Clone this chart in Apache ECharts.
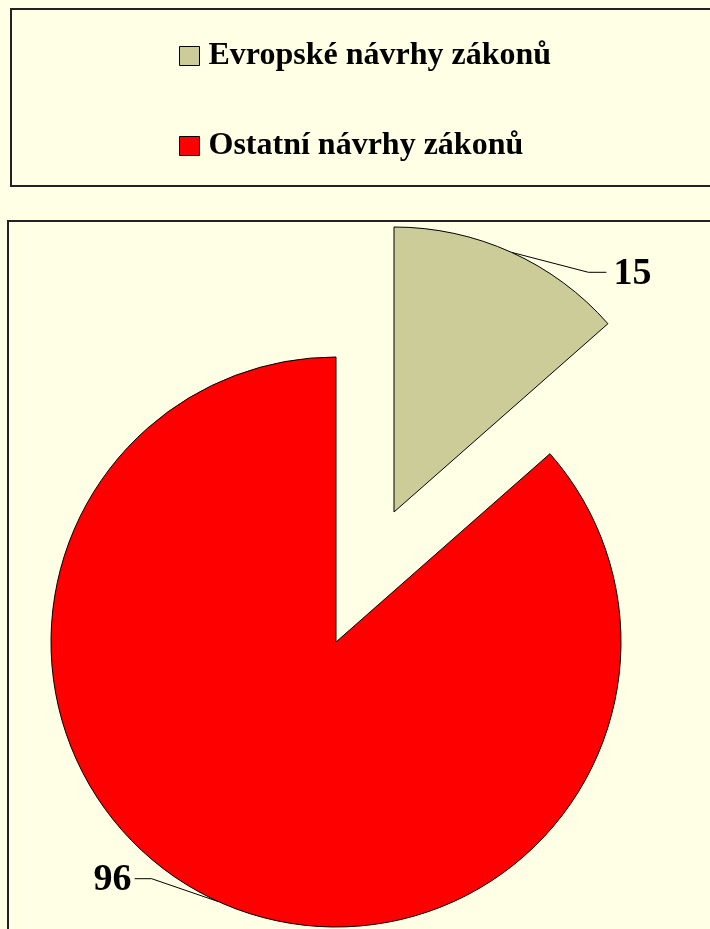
<!DOCTYPE html>
<html>
<head>
<meta charset="utf-8">
<script src="https://cdn.jsdelivr.net/npm/echarts@6/dist/echarts.min.js"></script>
<style>
  html, body { margin: 0; padding: 0; background: #FFFFE5; }
  #chart { width: 710px; height: 929px; }
</style>
</head>
<body>
<div id="chart"></div>
<script>
// data
const names = ['Evropské návrhy zákonů', 'Ostatní návrhy zákonů'];
const values = [15, 96];
const colors = ['#CCCC99', '#FF0000'];

const font = '"Liberation Serif", "Times New Roman", serif';
const chart = echarts.init(document.getElementById('chart'));

// each slice is pulled out of the pie, so every slice gets its own series/center
// (the other slice in that series is left invisible)
const centers = [[394, 512], [336, 642]];
// label + leader line offsets from the slice edge point
const labelOffsets = [
  { line: [[77, 20], [95, 20]], text: [102, 22], align: 'left' },
  { line: [[-67, -23], [-84, -23]], text: [-87, -22], align: 'right' }
];

const series = centers.map((c, si) => ({
  type: 'pie',
  center: c,
  radius: 285,
  startAngle: 90,
  clockwise: true,
  silent: true,
  animation: false,
  label: {
    show: true,
    position: 'outside',
    color: '#000',
    fontFamily: font,
    fontWeight: 'bold',
    fontSize: 38,
    formatter: '{c}'
  },
  labelLine: { show: true, length: 10, length2: 10, lineStyle: { color: '#000', width: 1 } },
  labelLayout: (params) => {
    const p = params.labelLinePoints;
    if (!p || params.dataIndex !== si) return {};
    const a = p[0];
    const o = labelOffsets[si];
    return {
      x: a[0] + o.text[0],
      y: a[1] + o.text[1],
      align: o.align,
      verticalAlign: 'middle',
      labelLinePoints: [a, [a[0] + o.line[0][0], a[1] + o.line[0][1]], [a[0] + o.line[1][0], a[1] + o.line[1][1]]]
    };
  },
  data: values.map((v, i) => i === si ? {
    name: names[i],
    value: v,
    itemStyle: { color: colors[i], borderColor: '#000', borderWidth: 1 }
  } : {
    name: names[i],
    value: v,
    itemStyle: { color: 'rgba(0,0,0,0)', borderWidth: 0 },
    label: { show: false },
    labelLine: { show: false }
  })
}));

const option = {
  backgroundColor: '#FFFFE5',
  animation: false,
  graphic: [
    { type: 'rect', shape: { x: 11, y: 9, width: 720, height: 177 },
      style: { fill: 'none', stroke: '#222', lineWidth: 2 }, silent: true },
    { type: 'rect', shape: { x: 8, y: 221, width: 720, height: 730 },
      style: { fill: 'none', stroke: '#222', lineWidth: 2 }, silent: true }
  ],
  legend: {
    orient: 'vertical',
    left: 179,
    top: 40,
    padding: 0,
    itemGap: 58,
    itemWidth: 20,
    itemHeight: 19,
    icon: 'rect',
    selectedMode: false,
    textStyle: {
      color: '#000',
      fontFamily: font,
      fontWeight: 'bold',
      fontSize: 32,
      lineHeight: 30,
      padding: [0, 0, 0, 4]
    },
    itemStyle: { borderColor: '#000', borderWidth: 1 },
    data: names.map((n, i) => ({ name: n, itemStyle: { color: colors[i], borderColor: '#000', borderWidth: 1 } }))
  },
  series: series
};

chart.setOption(option);
</script>
</body>
</html>
